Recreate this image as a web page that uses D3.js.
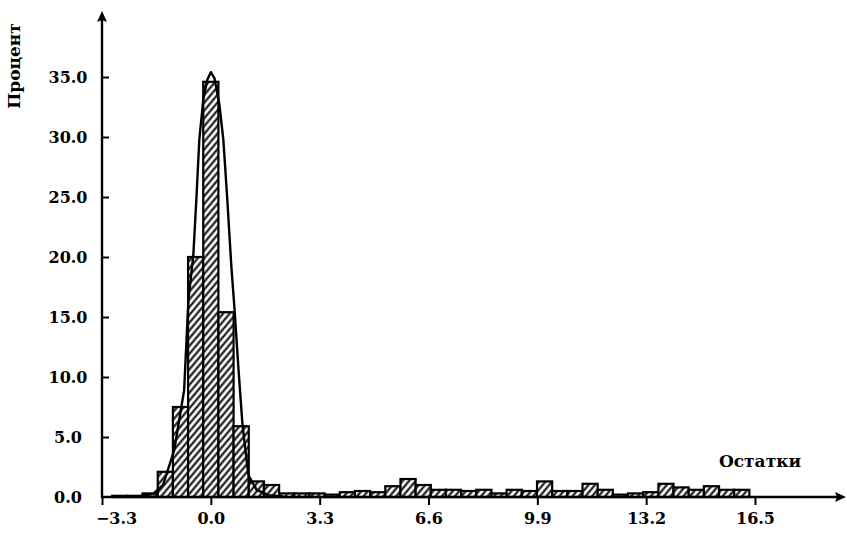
<!DOCTYPE html>
<html>
<head>
<meta charset="utf-8">
<script src="https://cdn.jsdelivr.net/npm/d3@7/dist/d3.min.js"></script>
<style>
  html, body { margin: 0; padding: 0; background: #fff; }
  svg { display: block; }
  .lbl { font-family: "DejaVu Serif", serif; font-weight: bold; fill: #000; }
</style>
</head>
<body>
<svg id="chart" width="847" height="533"></svg>
<script>
// Histogram of residuals: left edges of the bins (width binWidth) and percentages
const binWidth = 0.46;
const binStarts = [
  -2.99, -2.53, -2.07, -1.61, -1.15, -0.69, -0.23, 0.23, 0.69, 1.15,
  1.61, 2.07, 2.53, 2.99, 3.45, 3.91, 4.37, 4.83, 5.29, 5.75,
  6.21, 6.67, 7.13, 7.59, 8.05, 8.51, 8.97, 9.43, 9.89, 10.35,
  10.81, 11.27, 11.73, 12.19, 12.65, 13.11, 13.57, 14.03, 14.49, 14.95,
  15.41, 15.87
];
const percents = [
  0.1, 0.1, 0.3, 2.1, 7.5, 20.0, 34.6, 15.4, 5.9, 1.3,
  1.0, 0.3, 0.3, 0.3, 0.2, 0.4, 0.5, 0.4, 0.9, 1.5,
  1.0, 0.6, 0.6, 0.5, 0.6, 0.3, 0.6, 0.5, 1.3, 0.5,
  0.5, 1.1, 0.6, 0.2, 0.3, 0.4, 1.1, 0.8, 0.6, 0.9,
  0.6, 0.6
];

// Fitted density curve (residual, percent)
const curveX = [-2.2, -1.75, -1.45, -1.11, -0.81, -0.68, -0.53, -0.44, -0.35, -0.23, -0.11, 0.0,
                0.11, 0.26, 0.38, 0.50, 0.62, 0.72, 0.84, 0.96, 1.14, 1.39, 1.75, 2.2];
const curveY = [0.05, 0.25, 1.0, 3.9, 8.9, 16.4, 20.2, 24.75, 29.75, 33.1, 34.75, 35.4,
                34.9, 32.7, 29.75, 24.75, 19.3, 15.6, 10.6, 6.0, 1.8, 0.6, 0.15, 0.05];

// Axis ticks
const xTicks = [-3.3, 0.0, 3.3, 6.6, 9.9, 13.2, 16.5];
const yTicks = [0, 5, 10, 15, 20, 25, 30, 35];

const svg = d3.select("#chart");
svg.append("rect").attr("width", 847).attr("height", 533).attr("fill", "#fff");

const x = d3.scaleLinear().domain([-3.3, 16.5]).range([102, 755]);
const y = d3.scaleLinear().domain([0, 35]).range([497, 77]);

// Diagonal hatching for the bars
const defs = svg.append("defs");
const pat = defs.append("pattern")
  .attr("id", "hatch")
  .attr("patternUnits", "userSpaceOnUse")
  .attr("width", 5).attr("height", 5)
  .attr("patternTransform", "rotate(40)");
pat.append("rect").attr("width", 5).attr("height", 5).attr("fill", "#fff");
pat.append("line")
  .attr("x1", 2.5).attr("y1", -1).attr("x2", 2.5).attr("y2", 6)
  .attr("stroke", "#000").attr("stroke-width", 2);

const bins = binStarts.map((s, i) => ({ s, v: percents[i] }));

svg.append("g").selectAll("rect").data(bins).join("rect")
  .attr("x", d => x(d.s))
  .attr("width", d => x(d.s + binWidth) - x(d.s))
  .attr("y", d => y(d.v))
  .attr("height", d => y(0) - y(d.v))
  .attr("fill", "url(#hatch)")
  .attr("stroke", "#000")
  .attr("stroke-width", 2.2);

// Density curve
const line = d3.line().x(d => x(d[0])).y(d => y(d[1]));
svg.append("path")
  .datum(curveX.map((v, i) => [v, curveY[i]]))
  .attr("d", line)
  .attr("fill", "none")
  .attr("stroke", "#000")
  .attr("stroke-width", 2.4)
  .attr("stroke-linejoin", "round");

// X axis
const xAxis = svg.append("g")
  .attr("transform", `translate(0,${y(0)})`)
  .call(d3.axisBottom(x).tickValues(xTicks).tickSize(8).tickPadding(8)
    .tickFormat(d => (d < 0 ? "\u2212" : "") + Math.abs(d).toFixed(1)));
xAxis.select(".domain").remove();
xAxis.selectAll(".tick line").attr("stroke", "#000").attr("stroke-width", 2);
xAxis.selectAll(".tick text")
  .attr("class", "lbl")
  .style("font-size", "16px")
  .attr("dx", d => d < 0 ? 14 : 0);

// Y axis: labels centred in a column left of the axis
const yAxis = svg.append("g")
  .attr("transform", `translate(${x(-3.3)},0)`)
  .call(d3.axisLeft(y).tickValues(yTicks).tickSize(-7)
    .tickFormat(d => d.toFixed(1)));
yAxis.select(".domain").remove();
yAxis.selectAll(".tick line").attr("stroke", "#000").attr("stroke-width", 2)
  .filter(d => d === 0).remove();
yAxis.selectAll(".tick text")
  .attr("class", "lbl")
  .attr("x", 68 - x(-3.3))
  .attr("text-anchor", "middle")
  .style("font-size", "16px");

// Axis lines with arrow heads
const x0 = x(-3.3), yb = y(0);
svg.append("line").attr("x1", x0).attr("y1", yb).attr("x2", 840).attr("y2", yb)
  .attr("stroke", "#000").attr("stroke-width", 2.4);
svg.append("path").attr("d", `M846,${yb} L835,${yb - 5} L837,${yb} L835,${yb + 5} Z`).attr("fill", "#000");
svg.append("line").attr("x1", x0).attr("y1", yb + 1).attr("x2", x0).attr("y2", 18)
  .attr("stroke", "#000").attr("stroke-width", 2.4);
svg.append("path").attr("d", `M${x0},11 L${x0 - 5},22 L${x0},20 L${x0 + 5},22 Z`).attr("fill", "#000");

// Axis titles
svg.append("text").attr("class", "lbl")
  .attr("x", 760).attr("y", 467)
  .attr("text-anchor", "middle")
  .style("font-size", "17px")
  .text("Остатки");
svg.append("text").attr("class", "lbl")
  .attr("transform", "translate(20,66) rotate(-90)")
  .attr("text-anchor", "middle")
  .style("font-size", "17px")
  .text("Процент");
</script>
</body>
</html>
